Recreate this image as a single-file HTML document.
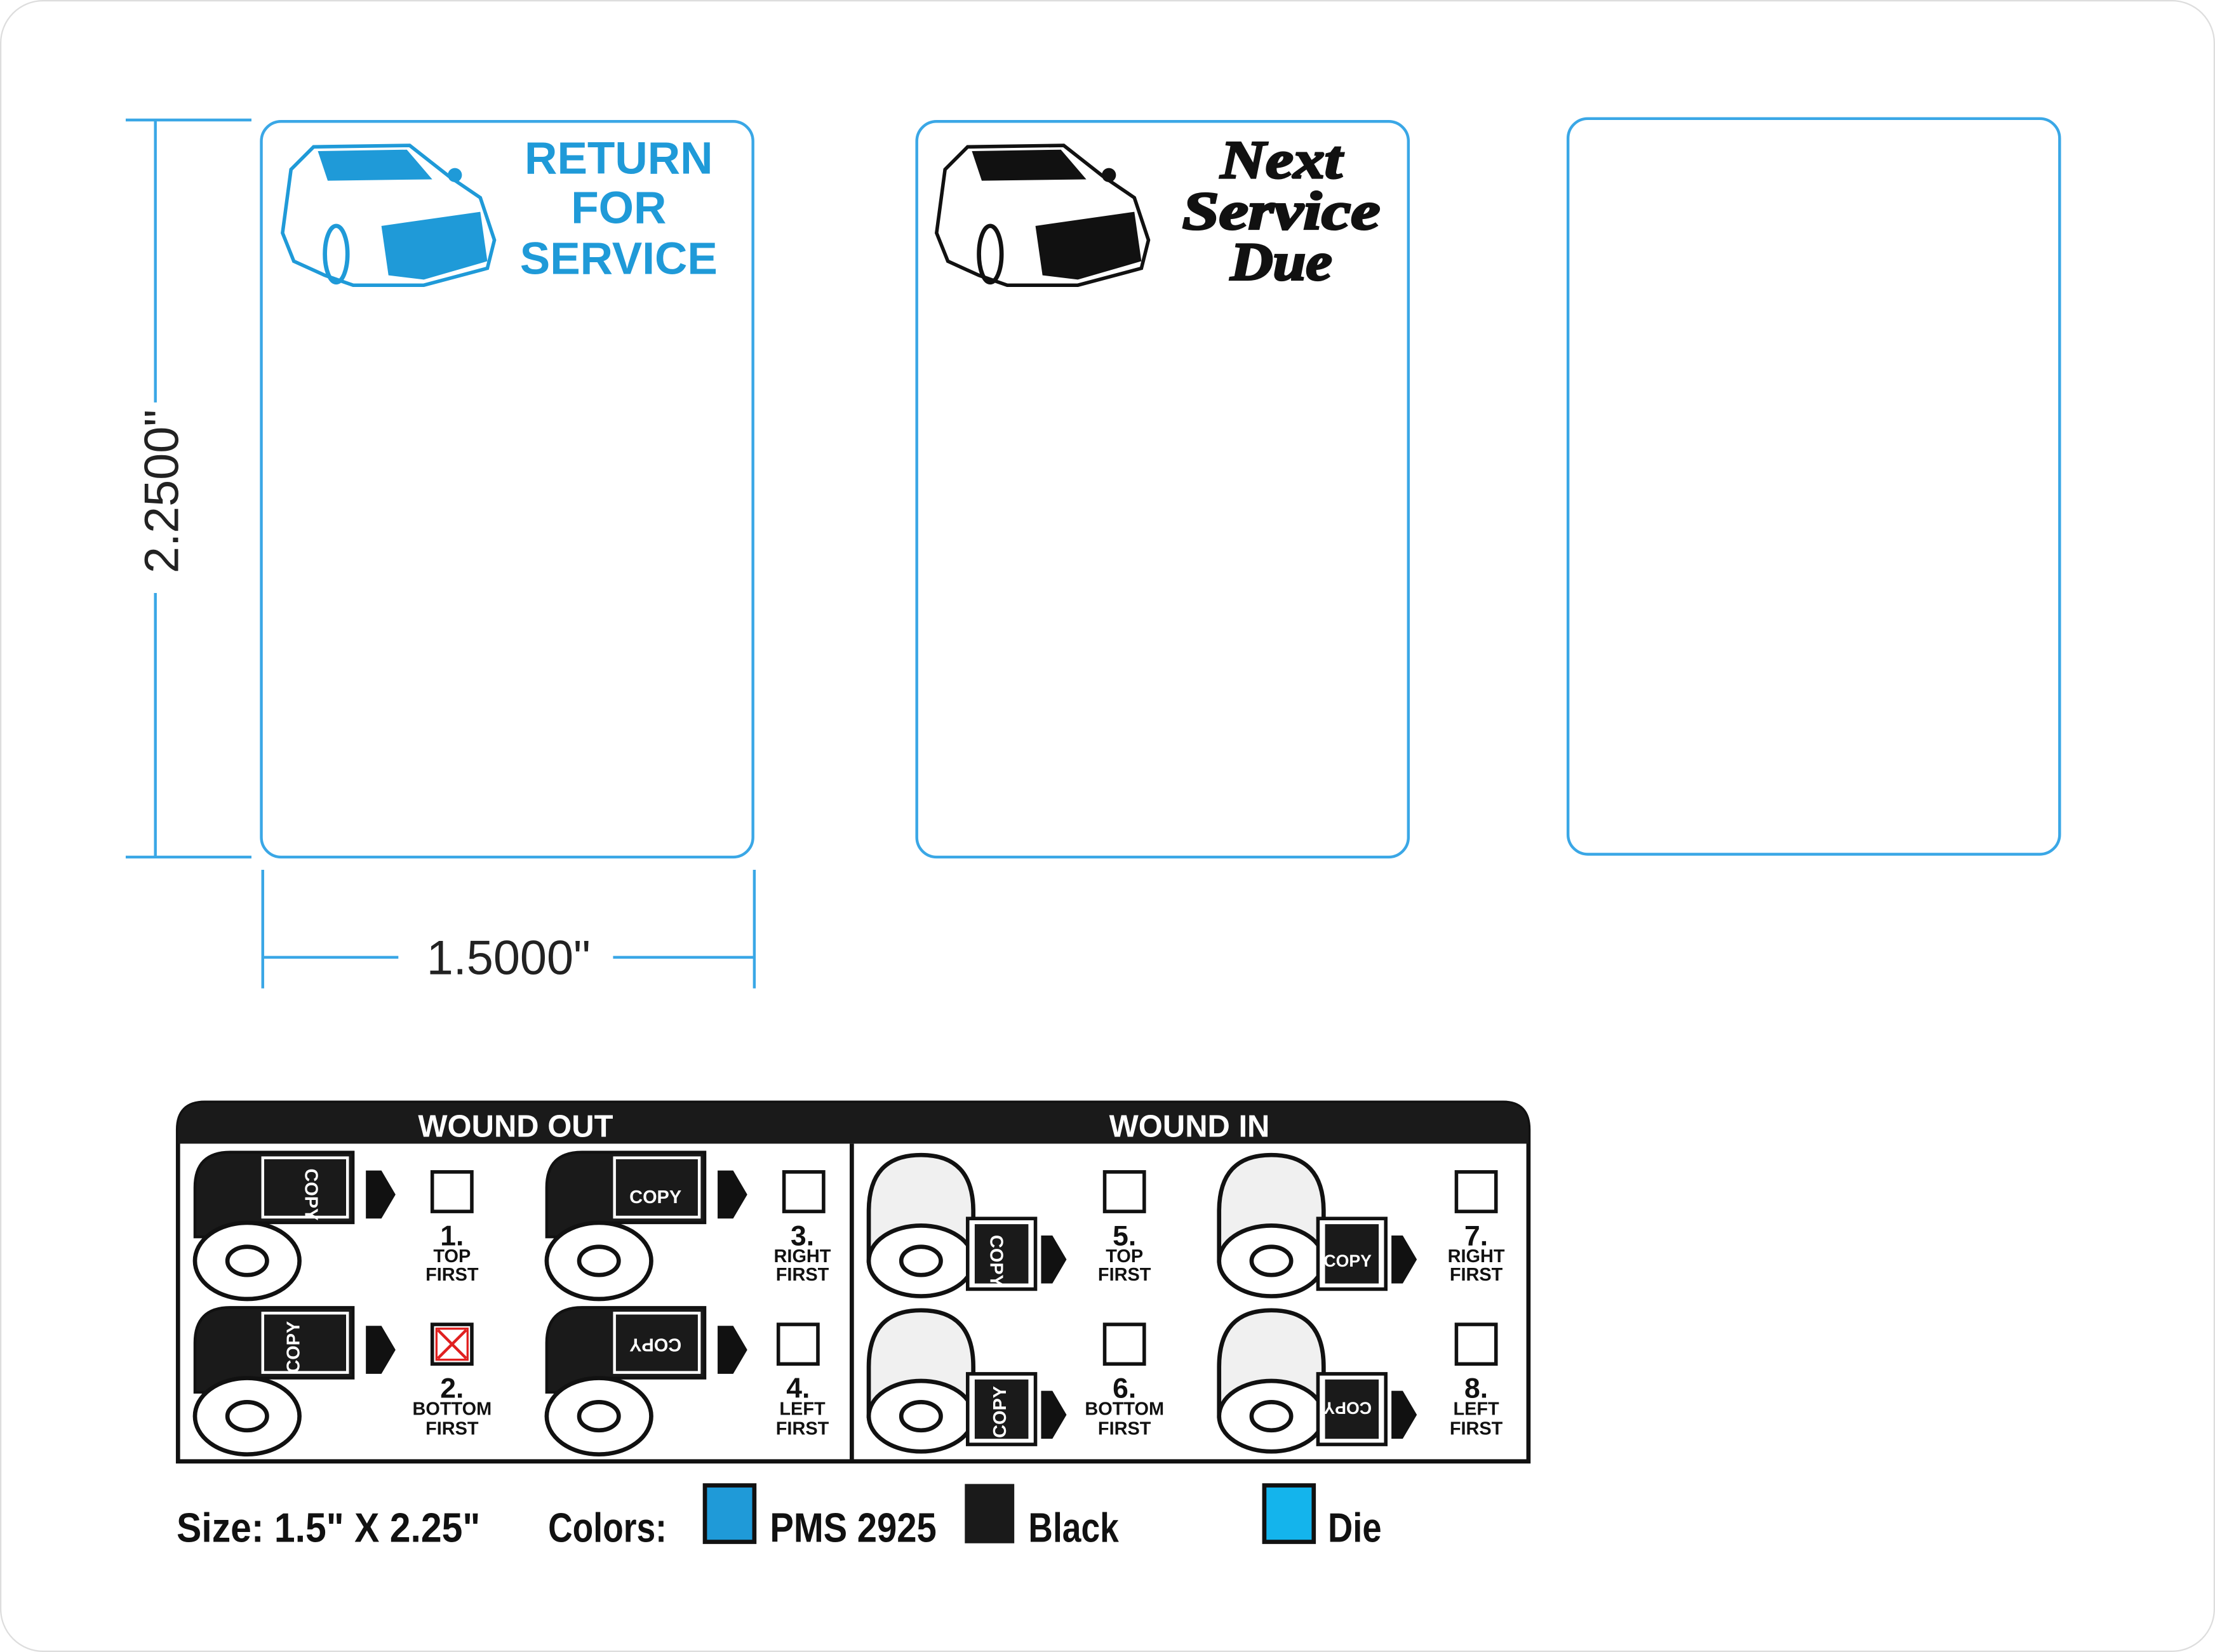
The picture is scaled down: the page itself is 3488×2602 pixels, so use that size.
<!DOCTYPE html>
<html><head><meta charset="utf-8"><style>
html,body{margin:0;padding:0;background:#fff;}
svg{display:block;}
</style></head><body>
<svg width="3488" height="2602" viewBox="0 0 1568 1170" preserveAspectRatio="none" xmlns="http://www.w3.org/2000/svg" font-family="Liberation Sans, sans-serif">
<rect x="0.5" y="0.5" width="1567" height="1169" rx="30" fill="#fff" stroke="#ddd" stroke-width="1"/>
<g fill="none" stroke="#3aa7e6" stroke-width="2">
<rect x="185" y="86" width="348" height="521" rx="14"/>
<rect x="649" y="86" width="348" height="521" rx="14"/>
<rect x="1110" y="84" width="348" height="521" rx="14"/>
<line x1="89" y1="85" x2="178" y2="85"/>
<line x1="89" y1="607" x2="178" y2="607"/>
<line x1="110" y1="85" x2="110" y2="285"/>
<line x1="110" y1="420" x2="110" y2="607"/>
<line x1="186" y1="616" x2="186" y2="700"/>
<line x1="534" y1="616" x2="534" y2="700"/>
<line x1="186" y1="678" x2="282" y2="678"/>
<line x1="434" y1="678" x2="534" y2="678"/>
</g>
<text x="360" y="690" font-size="34" text-anchor="middle" fill="#222">1.5000"</text>
<text transform="translate(126,348) rotate(-90)" font-size="34" text-anchor="middle" fill="#222">2.2500"</text>
<g>
<path d="M200,165 L206,120 L222,104 L290,103 L318,125 L340,140 L350,170 L345,190 L300,202 L250,202 L230,195 L208,185 Z" fill="#fff" stroke="#1f9ad8" stroke-width="2.5"/>
<path d="M225,107 L288,106 L306,127 L232,128 Z" fill="#1f9ad8"/>
<path d="M270,160 L340,150 L345,185 L300,198 L275,195 Z" fill="#1f9ad8"/>
<ellipse cx="238" cy="180" rx="8" ry="20" fill="none" stroke="#1f9ad8" stroke-width="3"/>
<circle cx="322" cy="124" r="5" fill="#1f9ad8"/>
</g>
<g fill="#1f9ad8" font-weight="bold" font-size="32" text-anchor="middle">
<text x="438" y="123">RETURN</text>
<text x="438" y="158">FOR</text>
<text x="438" y="194">SERVICE</text>
</g>
<g>
<path d="M663,165 L669,120 L685,104 L753,103 L781,125 L803,140 L813,170 L808,190 L763,202 L713,202 L693,195 L671,185 Z" fill="#fff" stroke="#111" stroke-width="2.5"/>
<path d="M688,107 L751,106 L769,127 L695,128 Z" fill="#111"/>
<path d="M733,160 L803,150 L808,185 L763,198 L738,195 Z" fill="#111"/>
<ellipse cx="701" cy="180" rx="8" ry="20" fill="none" stroke="#111" stroke-width="3"/>
<circle cx="785" cy="124" r="5" fill="#111"/>
</g>
<g fill="#111" stroke="#111" stroke-width="1.5" font-weight="bold" font-style="italic" font-family="Liberation Serif, serif" font-size="38" text-anchor="middle">
<text x="907" y="126" textLength="86" lengthAdjust="spacingAndGlyphs">Next</text>
<text x="907" y="162" textLength="140" lengthAdjust="spacingAndGlyphs">Service</text>
<text x="907" y="198" textLength="72" lengthAdjust="spacingAndGlyphs">Due</text>
</g>
<defs>
<g id="out">
<path d="M0,25 Q0,0 25,0 L112,0 L112,50 L40,50 Q35,52 35,60 L0,60 Z" fill="#1a1a1a" stroke="#111" stroke-width="2"/>
<rect x="48" y="4" width="60" height="42" fill="#1a1a1a" stroke="#fff" stroke-width="2"/>
<ellipse cx="37" cy="77" rx="37" ry="27" fill="#fff" stroke="#111" stroke-width="3"/>
<ellipse cx="37" cy="77" rx="14" ry="10" fill="#fff" stroke="#111" stroke-width="3"/>
<path d="M121,13 L132,13 L142,30 L132,47 L121,47 Z" fill="#111"/>
</g>
<g id="in">
<path d="M0,40 Q0,0 37,0 Q74,0 74,40 L74,75 L0,75 Z" fill="#f0f0f0" stroke="#111" stroke-width="3"/>
<ellipse cx="37" cy="75" rx="37" ry="25" fill="#fff" stroke="#111" stroke-width="3"/>
<ellipse cx="37" cy="75" rx="14" ry="10" fill="#fff" stroke="#111" stroke-width="3"/>
<rect x="70" y="45" width="48" height="50" fill="#fff" stroke="#111" stroke-width="2.5"/>
<rect x="75" y="49" width="38" height="42" fill="#1a1a1a"/>
<path d="M122,57 L130,57 L140,74 L130,91 L122,91 Z" fill="#111"/>
</g>
</defs>
<path d="M126,1035 L126,800 Q126,781 145,781 L1064,781 Q1082,781 1082,800 L1082,1035 Z" fill="#fff" stroke="#111" stroke-width="3"/>
<path d="M126,810 L126,800 Q126,781 145,781 L1064,781 Q1082,781 1082,800 L1082,810 Z" fill="#1a1a1a"/>
<line x1="603" y1="810" x2="603" y2="1035" stroke="#111" stroke-width="3"/>
<g fill="#fff" font-weight="bold" font-size="22" text-anchor="middle">
<text x="365" y="805">WOUND OUT</text>
<text x="842" y="805">WOUND IN</text>
</g>
<use href="#out" x="138" y="816"/>
<use href="#out" x="138" y="926"/>
<use href="#out" x="387" y="816"/>
<use href="#out" x="387" y="926"/>
<use href="#in" x="615" y="818"/>
<use href="#in" x="615" y="928"/>
<use href="#in" x="863" y="818"/>
<use href="#in" x="863" y="928"/>
<g fill="#fff" font-weight="bold" font-size="13" text-anchor="middle">
<text transform="translate(216,846) rotate(90)">COPY</text>
<text transform="translate(212,954) rotate(-90)">COPY</text>
<text x="464" y="852">COPY</text>
<text transform="translate(464,948) rotate(180)">COPY</text>
<text transform="translate(701,893) rotate(90)">COPY</text>
<text transform="translate(712,1000) rotate(-90)">COPY</text>
<text x="954" y="897" font-size="12">COPY</text>
<text transform="translate(954,993) rotate(180)" font-size="12">COPY</text>
</g>
<g fill="#fff" stroke="#111" stroke-width="2.5">
<rect x="306" y="830" width="28" height="28"/>
<rect x="306" y="938" width="28" height="28"/>
<rect x="555" y="830" width="28" height="28"/>
<rect x="551" y="938" width="28" height="28"/>
<rect x="782" y="830" width="28" height="28"/>
<rect x="782" y="938" width="28" height="28"/>
<rect x="1031" y="830" width="28" height="28"/>
<rect x="1031" y="938" width="28" height="28"/>
</g>
<path d="M310,942 L330,962 M330,942 L310,962" stroke="#e02020" stroke-width="2"/>
<rect x="309" y="941" width="22" height="22" fill="none" stroke="#e02020" stroke-width="1.5"/>
<g fill="#111" font-weight="bold" text-anchor="middle" font-size="20">
<text x="320" y="882">1.</text><text x="320" y="990">2.</text>
<text x="568" y="882">3.</text><text x="565" y="990">4.</text>
<text x="796" y="882">5.</text><text x="796" y="990">6.</text>
<text x="1045" y="882">7.</text><text x="1045" y="990">8.</text>
</g>
<g fill="#111" font-weight="bold" text-anchor="middle" font-size="13">
<text x="320" y="894">TOP</text><text x="320" y="907">FIRST</text>
<text x="320" y="1002">BOTTOM</text><text x="320" y="1016">FIRST</text>
<text x="568" y="894">RIGHT</text><text x="568" y="907">FIRST</text>
<text x="568" y="1002">LEFT</text><text x="568" y="1016">FIRST</text>
<text x="796" y="894">TOP</text><text x="796" y="907">FIRST</text>
<text x="796" y="1002">BOTTOM</text><text x="796" y="1016">FIRST</text>
<text x="1045" y="894">RIGHT</text><text x="1045" y="907">FIRST</text>
<text x="1045" y="1002">LEFT</text><text x="1045" y="1016">FIRST</text>
</g>
<g fill="#111" font-weight="bold" font-size="29" font-family="Liberation Sans Narrow, Liberation Sans, sans-serif">
<text x="125" y="1092" textLength="215" lengthAdjust="spacingAndGlyphs">Size:  1.5" X 2.25"</text>
<text x="388" y="1092" textLength="84" lengthAdjust="spacingAndGlyphs">Colors:</text>
<text x="545" y="1092" textLength="118" lengthAdjust="spacingAndGlyphs">PMS 2925</text>
<text x="728" y="1092" textLength="64" lengthAdjust="spacingAndGlyphs">Black</text>
<text x="940" y="1092" textLength="38" lengthAdjust="spacingAndGlyphs">Die</text>
</g>
<rect x="499" y="1052" width="35" height="40" fill="#1f9ad8" stroke="#111" stroke-width="3"/>
<rect x="683" y="1051" width="35" height="42" fill="#1a1a1a"/>
<rect x="895" y="1052" width="35" height="40" fill="#14b4ec" stroke="#111" stroke-width="3"/>
</svg>
</body></html>
